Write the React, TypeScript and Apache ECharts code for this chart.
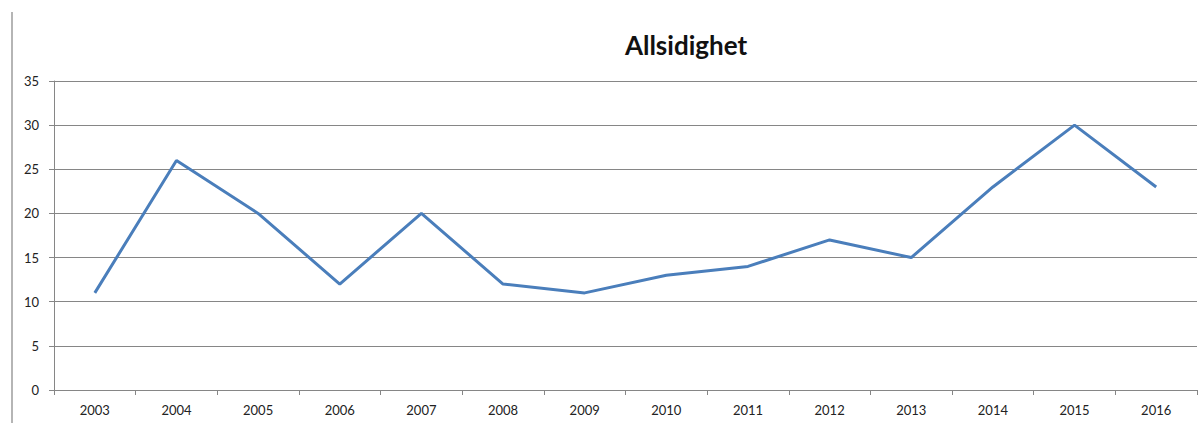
import React, { useEffect, useRef } from "react";
import * as echarts from "echarts";

const years = ["2003", "2004", "2005", "2006", "2007", "2008", "2009", "2010", "2011", "2012", "2013", "2014", "2015", "2016"];
const values = [11, 26, 20, 12, 20, 12, 11, 13, 14, 17, 15, 23, 30, 23];
const titleText = "Allsidighet";

export default function App() {
  const ref = useRef<HTMLDivElement>(null);
  useEffect(() => {
    const chart = echarts.init(ref.current!, null, { renderer: "svg" });
    const font = "Lato, 'Open Sans', sans-serif";
    chart.setOption({
      animation: false,
      backgroundColor: "#ffffff",
      title: {
        text: titleText,
        left: 681,
        top: 27,
        textAlign: "center",
        textStyle: { fontFamily: font, fontSize: 26, fontWeight: "bold", color: "#111" },
      },
      graphic: [
        {
          type: "line",
          shape: { x1: 12, y1: 12, x2: 12, y2: 423 },
          style: { stroke: "#b5b5b5", lineWidth: 2 },
        },
      ],
      grid: { left: 54, right: 1, top: 81, bottom: 33 },
      xAxis: {
        type: "category",
        data: years,
        boundaryGap: true,
        axisLine: { lineStyle: { color: "#868686", width: 1 } },
        axisTick: { show: true, alignWithLabel: false, length: 5, lineStyle: { color: "#868686" } },
        axisLabel: { color: "#222", fontSize: 13, fontFamily: font, margin: 13 },
        splitLine: { show: false },
      },
      yAxis: {
        type: "value",
        min: 0,
        max: 35,
        interval: 5,
        axisLine: { show: true, lineStyle: { color: "#868686", width: 1 } },
        axisTick: { show: true, length: 5, lineStyle: { color: "#868686" } },
        axisLabel: { color: "#222", fontSize: 13, fontFamily: font, margin: 15 },
        splitLine: { show: true, lineStyle: { color: "#868686", width: 1 } },
      },
      series: [
        {
          type: "line",
          data: values,
          symbol: "none",
          lineStyle: { color: "#4a7ebb", width: 3 },
          itemStyle: { color: "#4a7ebb" },
        },
      ],
    });
    return () => chart.dispose();
  }, []);
  return (
    <div
      ref={ref}
      style={{ position: "fixed", left: 0, top: 0, width: 1198, height: 423 }}
    />
  );
}
